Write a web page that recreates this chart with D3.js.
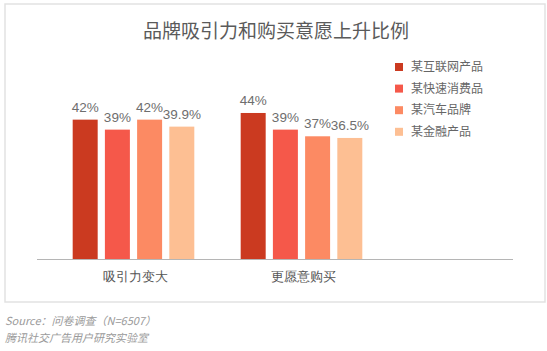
<!DOCTYPE html>
<html>
<meta charset="utf-8">
<style>

body {
  margin: 0;
  background: #fff;
  font-family: "Noto Sans CJK SC", "Liberation Sans", sans-serif;
}

.frame {
  fill: #fff;
  stroke: #e2e2e2;
  stroke-width: 1.5px;
}

.title {
  font-size: 19px;
  fill: #5a5a5a;
}

.value {
  font-family: "Liberation Sans", sans-serif;
  font-size: 13.5px;
  fill: #6e6e6e;
}

.baseline {
  stroke: #b5b5b5;
  shape-rendering: crispEdges;
}

.axis text {
  font-size: 13px;
  fill: #555;
}

.legend text {
  font-size: 12px;
  fill: #666;
}

.source {
  font-size: 11px;
  font-style: italic;
  fill: #9a9a9a;
}

</style>
<body>
<script src="https://cdnjs.cloudflare.com/ajax/libs/d3/7.8.5/d3.min.js"></script>
<script>

var categories = ["吸引力变大", "更愿意购买"];
var series = ["某互联网产品", "某快速消费品", "某汽车品牌", "某金融产品"];
var colors = ["#cb3a20", "#f5584a", "#fc8a63", "#fdbf93"];
var values = [
  [42, 39, 42, 39.9],
  [44, 39, 37, 36.5]
];
var labels = [
  ["42%", "39%", "42%", "39.9%"],
  ["44%", "39%", "37%", "36.5%"]
];

var width = 547,
    height = 351;

var svg = d3.select("body").append("svg")
    .attr("width", width)
    .attr("height", height);

svg.append("rect")
    .attr("class", "frame")
    .attr("x", 5)
    .attr("y", 4)
    .attr("width", 540)
    .attr("height", 298);

svg.append("text")
    .attr("class", "title")
    .attr("x", 276)
    .attr("y", 38)
    .attr("text-anchor", "middle")
    .text("品牌吸引力和购买意愿上升比例");

var x0 = d3.scaleBand()
    .domain(categories)
    .range([49.5, 385.5])
    .paddingInner(0.276)
    .paddingOuter(0.138);

var x1 = d3.scaleBand()
    .domain(series)
    .range([0, x0.bandwidth()])
    .paddingInner(0.224);

var y = d3.scaleLinear()
    .domain([0, 50])
    .range([259.5, 93]);

var groups = svg.selectAll(".group")
    .data(categories)
  .enter().append("g")
    .attr("class", "group")
    .attr("transform", function(d) { return "translate(" + x0(d) + ",0)"; });

groups.selectAll("rect")
    .data(function(d, i) {
      return series.map(function(s, j) { return {s: s, v: values[i][j], c: colors[j]}; });
    })
  .enter().append("rect")
    .attr("x", function(d) { return x1(d.s); })
    .attr("y", function(d) { return y(d.v); })
    .attr("width", x1.bandwidth())
    .attr("height", function(d) { return y(0) - y(d.v); })
    .attr("fill", function(d) { return d.c; });

groups.selectAll(".value")
    .data(function(d, i) {
      return series.map(function(s, j) { return {s: s, v: values[i][j], t: labels[i][j]}; });
    })
  .enter().append("text")
    .attr("class", "value")
    .attr("x", function(d) { return x1(d.s) + x1.bandwidth() / 2; })
    .attr("y", function(d) { return y(d.v) - 8; })
    .attr("text-anchor", "middle")
    .text(function(d) { return d.t; });

svg.append("line")
    .attr("class", "baseline")
    .attr("x1", 37)
    .attr("x2", 513)
    .attr("y1", 259.5)
    .attr("y2", 259.5);

svg.append("g")
    .attr("class", "axis")
    .attr("transform", "translate(1.5," + 259.5 + ")")
    .call(d3.axisBottom(x0).tickSize(0).tickPadding(12))
    .call(function(g) { g.select(".domain").remove(); });

var legend = svg.append("g")
    .attr("class", "legend")
    .selectAll("g")
    .data(series)
  .enter().append("g")
    .attr("transform", function(d, i) { return "translate(395," + (67 + i * 21.6) + ")"; });

legend.append("rect")
    .attr("y", -4)
    .attr("width", 8)
    .attr("height", 8)
    .attr("fill", function(d, i) { return colors[i]; });

legend.append("text")
    .attr("x", 16)
    .attr("dy", "0.35em")
    .text(function(d) { return d; });

svg.append("text")
    .attr("class", "source")
    .attr("x", 5)
    .attr("y", 325)
    .text("Source：问卷调查（N=6507）");

svg.append("text")
    .attr("class", "source")
    .attr("x", 5)
    .attr("y", 342)
    .text("腾讯社交广告用户研究实验室");

</script>
</body>
</html>
